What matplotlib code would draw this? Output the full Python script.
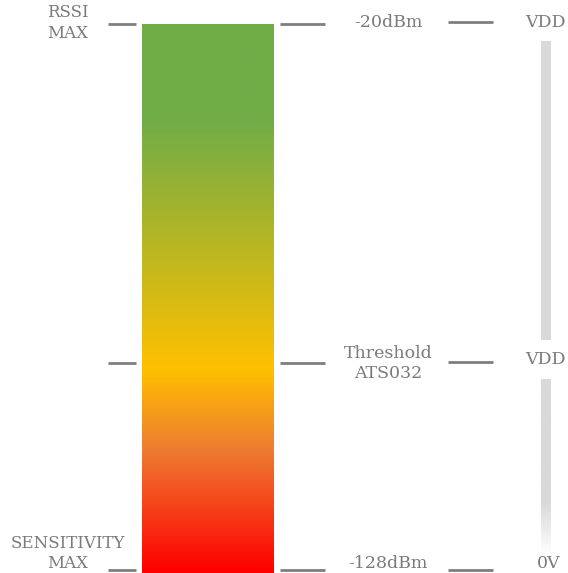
import matplotlib
matplotlib.use('Agg')
import matplotlib.pyplot as plt
import numpy as np
from matplotlib.colors import to_rgb

# Các mức tín hiệu (dBm): đỉnh, ngưỡng, đáy
levels_dbm = [-20, -87, -128]
left_labels = ["RSSI\nMAX", "", "SENSITIVITY\nMAX"]
mid_labels = ["-20dBm", "Threshold\nATS032", "-128dBm"]
right_labels = ["VDD", "VDD", "0V"]

# Điểm dừng của dải màu (dBm -> màu)
grad_dbm = [-20, -39, -88, -104, -128]
grad_colors = ['#70AD47', '#70AD47', '#FFC000', '#ED7D31', '#FF0000']

TEXT_COLOR = '#7A7A7A'
LINE_COLOR = '#7F7F7F'
BAR_GRAY = '#D9D9D9'

fig = plt.figure(figsize=(5.68, 5.73), dpi=100)
ax = fig.add_axes([0, 0, 1, 1])
ax.axis('off')
y_top, y_bot = -15.26, -128.4
ax.set_xlim(0, 568)
ax.set_ylim(y_bot, y_top)

plt.rcParams['font.family'] = 'DejaVu Serif'
fs = 12.5
fs_left = 12

# Thanh gradient
ys = np.linspace(levels_dbm[0], y_bot, 600)
rgb = np.array([to_rgb(c) for c in grad_colors])
gx = grad_dbm[::-1]
img = np.stack([np.interp(ys, gx, rgb[::-1, k]) for k in range(3)], axis=-1)
img = img[:, None, :]
ax.imshow(img, extent=(142, 274, y_bot, levels_dbm[0]), aspect='auto',
          origin='upper', interpolation='bilinear', zorder=1)

# Vạch ngang
for i, lv in enumerate(levels_dbm):
    ly = lv if i < 2 else lv + 0.2
    ax.plot([108, 136], [ly, ly], color=LINE_COLOR, lw=2, solid_capstyle='butt')
    ax.plot([280, 325], [ly, ly], color=LINE_COLOR, lw=2, solid_capstyle='butt')
    ry = ly + 0.3 if i < 2 else ly
    ax.plot([448, 493], [ry, ry], color=LINE_COLOR, lw=2, solid_capstyle='butt')

# Nhãn
px = 1 / 5.065  # 1 pixel theo dBm
for i, lv in enumerate(levels_dbm):
    if i == 0:
        va, ty = 'center', lv + 2 * px
    elif i == 1:
        va, ty = 'center', lv
    else:
        va, ty = 'baseline', lv + 3 * px
    if left_labels[i]:
        ax.text(68, ty - (1 * px if i == 0 else 0), left_labels[i], ha='center', va=va,
                color=TEXT_COLOR, fontsize=fs_left, linespacing=1.25)
    ax.text(388, ty, mid_labels[i], ha='center', va=va,
            color=TEXT_COLOR, fontsize=fs, linespacing=1.2)
    ax.text(545 if i < 2 else 549, ty + (4 * px if i == 1 else 0),
            right_labels[i], ha='center', va=va, color=TEXT_COLOR, fontsize=fs)

# Thanh xám bên phải (VDD)
ax.fill_between([541, 551], -23.4, -82.4, color=BAR_GRAY, lw=0, zorder=1)
seg_top, seg_bot, fade_start = -90.1, -124.8, -114.5
fy = np.linspace(seg_top, seg_bot, 300)
alpha = np.clip((fy - seg_bot) / (fade_start - seg_bot), 0, 1)
gray = np.array(to_rgb(BAR_GRAY))
fimg = np.ones((300, 1, 4))
fimg[:, 0, :3] = gray
fimg[:, 0, 3] = alpha
ax.imshow(fimg, extent=(541, 551, seg_bot, seg_top), aspect='auto',
          origin='upper', interpolation='bilinear', zorder=1)

ax.set_xlim(0, 568)
ax.set_ylim(y_bot, y_top)
fig.savefig('out.png', dpi=100)
